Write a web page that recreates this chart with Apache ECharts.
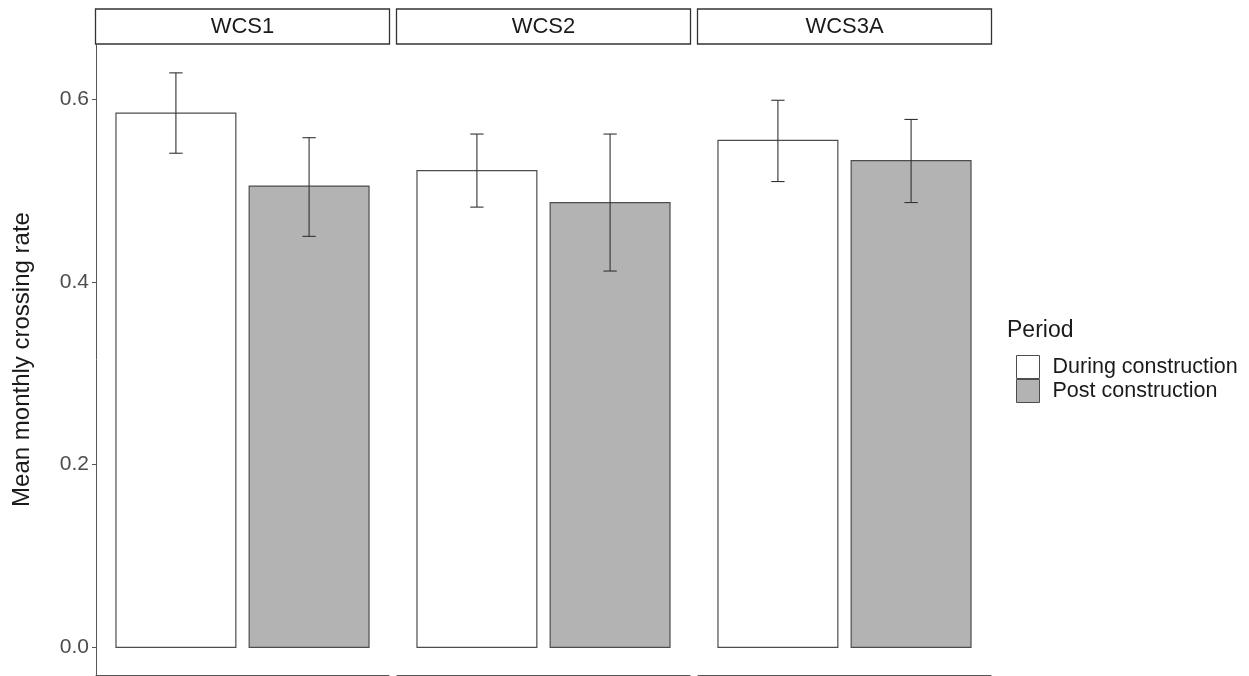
<!DOCTYPE html>
<html><head><meta charset="utf-8">
<script src="https://cdn.jsdelivr.net/npm/echarts@6/dist/echarts.min.js"></script>
<style>html,body{margin:0;padding:0;background:#fff}#c{width:1249px;height:676px}</style>
</head><body><div id="c"></div>
<script>
// ---- data ----
const facets = ['WCS1', 'WCS2', 'WCS3A'];
const periods = ['During construction', 'Post construction'];
const duringMean = [0.585, 0.522, 0.555];
const duringLow  = [0.541, 0.482, 0.510];
const duringHigh = [0.629, 0.562, 0.599];
const postMean   = [0.505, 0.487, 0.533];
const postLow    = [0.450, 0.412, 0.487];
const postHigh   = [0.558, 0.562, 0.578];
const yTicks = [0, 0.2, 0.4, 0.6];
const yTitle = 'Mean monthly crossing rate';
const legendTitle = 'Period';

// ---- layout / style ----
const FONT = "'Liberation Sans', Arial, sans-serif";
const gridLefts = [96, 397, 698];
const gridWidth = 293;
const gridTop = 44, gridHeight = 631;
const fills = ['#ffffff', '#b3b3b3'];
const stroke = '#4d4d4d';

const chart = echarts.init(document.getElementById('c'), null, {renderer: 'canvas'});

function renderItem(params, api) {
  const x = api.value(0), m = api.value(1), lo = api.value(2), hi = api.value(3);
  const fill = fills[api.value(4)];
  const a = api.coord([x - 0.45, m]);
  const b = api.coord([x + 0.45, 0]);
  const top = api.coord([x, hi]);
  const bot = api.coord([x, lo]);
  const cl = api.coord([x - 0.05, hi])[0];
  const cr = api.coord([x + 0.05, hi])[0];
  const ls = {stroke: '#333333', lineWidth: 1.1};
  return {
    type: 'group',
    children: [
      {type: 'rect', shape: {x: a[0], y: a[1], width: b[0] - a[0], height: b[1] - a[1]},
       style: {fill: fill, stroke: stroke, lineWidth: 1.2}},
      {type: 'line', shape: {x1: top[0], y1: top[1], x2: bot[0], y2: bot[1]}, style: ls},
      {type: 'line', shape: {x1: cl, y1: top[1], x2: cr, y2: top[1]}, style: ls},
      {type: 'line', shape: {x1: cl, y1: bot[1], x2: cr, y2: bot[1]}, style: ls}
    ]
  };
}

const grids = [], xAxes = [], yAxes = [], series = [], graphics = [];
facets.forEach((f, i) => {
  grids.push({left: gridLefts[i], top: gridTop, width: gridWidth, height: gridHeight});
  xAxes.push({type: 'value', gridIndex: i, min: 0.4, max: 2.6,
    axisLine: {show: true, onZero: false, lineStyle: {color: '#555', width: 1}},
    axisTick: {show: false}, axisLabel: {show: false}, splitLine: {show: false}});
  yAxes.push({type: 'value', gridIndex: i, min: -0.0303, max: 0.6606,
    name: i === 0 ? yTitle : '', nameLocation: 'middle', nameGap: 62,
    nameTextStyle: {fontFamily: FONT, fontSize: 24, color: '#1a1a1a'},
    axisLine: {show: i === 0, onZero: false, lineStyle: {color: '#555', width: 1}},
    axisTick: {show: i === 0, length: 4, lineStyle: {color: '#555'}, customValues: yTicks},
    axisLabel: {show: i === 0, customValues: yTicks, margin: 7,
      formatter: v => Number(v).toFixed(1), fontFamily: FONT, fontSize: 21, color: '#4d4d4d'},
    splitLine: {show: false}});
  series.push({type: 'custom', name: periods[0], xAxisIndex: i, yAxisIndex: i,
    renderItem: renderItem, itemStyle: {color: fills[0], borderColor: stroke, borderWidth: 1},
    data: [[1, duringMean[i], duringLow[i], duringHigh[i], 0]]});
  series.push({type: 'custom', name: periods[1], xAxisIndex: i, yAxisIndex: i,
    renderItem: renderItem, itemStyle: {color: fills[1], borderColor: stroke, borderWidth: 1},
    data: [[2, postMean[i], postLow[i], postHigh[i], 1]]});
  graphics.push({type: 'rect', shape: {x: gridLefts[i] - 0.5, y: 9, width: gridWidth + 1, height: 35},
    style: {fill: '#fff', stroke: '#333', lineWidth: 1.3}});
  graphics.push({type: 'text', x: gridLefts[i] + gridWidth / 2, y: 27,
    style: {text: f, fontFamily: FONT, fontSize: 22, fill: '#1a1a1a', align: 'center', verticalAlign: 'middle'}});
});

chart.setOption({
  animation: false,
  backgroundColor: '#fff',
  title: {text: legendTitle, left: 1007, top: 319, padding: 0,
    textStyle: {fontFamily: FONT, fontSize: 23, fontWeight: 'normal', color: '#1a1a1a'}},
  legend: {orient: 'vertical', left: 1016, top: 355, padding: 0, itemWidth: 23, itemHeight: 23, itemGap: 0,
    icon: 'rect', selectedMode: false,
    data: periods.map((p, k) => ({name: p, itemStyle: {color: fills[k], borderColor: stroke, borderWidth: 1}})),
    textStyle: {fontFamily: FONT, fontSize: 21.5, lineHeight: 23, color: '#1a1a1a', padding: [0, 0, 0, 8]}},
  grid: grids, xAxis: xAxes, yAxis: yAxes, series: series,
  graphic: graphics
});
</script></body></html>
